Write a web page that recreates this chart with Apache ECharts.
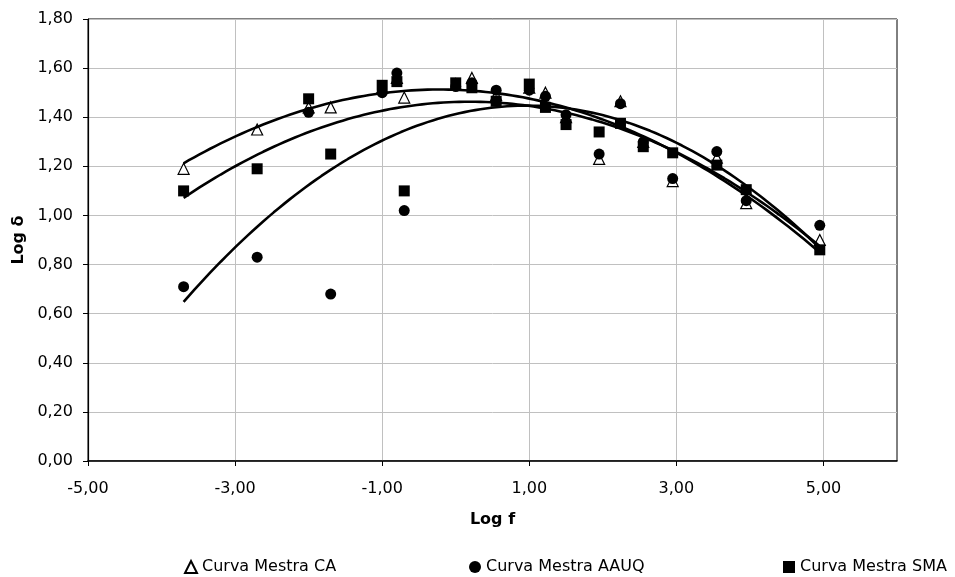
<!DOCTYPE html>
<html>
<head>
<meta charset="utf-8">
<title>Curvas Mestras - Log δ x Log f</title>
<script src="https://cdn.jsdelivr.net/npm/echarts@6/dist/echarts.min.js"></script>
<style>
  html, body { margin: 0; padding: 0; background: #fff; }
  #chart { width: 955px; height: 577px; }
</style>
</head>
<body>
<div id="chart"></div>
<script>
// Log of reduced frequency (shared by the three master curves)
const logF = [-3.70, -2.70, -2.00, -1.70, -1.00, -0.80, -0.70, 0.00, 0.22, 0.55,
              1.00, 1.22, 1.50, 1.95, 2.24, 2.55, 2.95, 3.55, 3.95, 4.95];

// Log of phase angle for each mixture
const caValues   = [1.19, 1.35, 1.44, 1.44, 1.52, 1.56, 1.48, 1.535, 1.56, 1.49,
                    1.52, 1.50, 1.40, 1.23, 1.465, 1.30, 1.14, 1.235, 1.05, 0.90];
const aauqValues = [0.71, 0.83, 1.42, 0.68, 1.50, 1.58, 1.02, 1.525, 1.54, 1.51,
                    1.51, 1.485, 1.41, 1.25, 1.455, 1.30, 1.15, 1.26, 1.06, 0.96];
const smaValues  = [1.10, 1.19, 1.475, 1.25, 1.53, 1.545, 1.10, 1.54, 1.52, 1.465,
                    1.535, 1.44, 1.37, 1.34, 1.375, 1.28, 1.255, 1.205, 1.105, 0.86];

const seriesNames = ['Curva Mestra CA', 'Curva Mestra AAUQ', 'Curva Mestra SMA'];
const xTickLabels = [-5, -3, -1, 1, 3, 5];

// Order of the polynomial trendline fitted to each curve
const TREND_ORDER = 2;

const FONT = 'DejaVu Sans';

function fmt(v) {
  return Number(v).toFixed(2).replace('.', ',');
}

// Least-squares polynomial fit, returns coefficients c0..cn
function polyFit(xs, ys, order) {
  const n = order + 1;
  const A = [];
  for (let i = 0; i < n; i++) {
    A.push(new Array(n + 1).fill(0));
  }
  for (let k = 0; k < xs.length; k++) {
    for (let i = 0; i < n; i++) {
      for (let j = 0; j < n; j++) A[i][j] += Math.pow(xs[k], i + j);
      A[i][n] += ys[k] * Math.pow(xs[k], i);
    }
  }
  for (let i = 0; i < n; i++) {
    let p = i;
    for (let r = i + 1; r < n; r++) if (Math.abs(A[r][i]) > Math.abs(A[p][i])) p = r;
    [A[i], A[p]] = [A[p], A[i]];
    for (let r = 0; r < n; r++) {
      if (r === i) continue;
      const f = A[r][i] / A[i][i];
      for (let c = i; c <= n; c++) A[r][c] -= f * A[i][c];
    }
  }
  return A.map((row, i) => row[n] / row[i]);
}

// Trendline evaluated across the range of the fitted data
function trendData(xs, ys) {
  const c = polyFit(xs, ys, TREND_ORDER);
  const x0 = Math.min(...xs), x1 = Math.max(...xs);
  const steps = 120;
  const out = [];
  for (let s = 0; s <= steps; s++) {
    const x = x0 + (x1 - x0) * s / steps;
    let y = 0;
    for (let i = c.length - 1; i >= 0; i--) y = y * x + c[i];
    out.push([x, y]);
  }
  return out;
}

function pairs(ys) {
  return logF.map((x, i) => [x, ys[i]]);
}

const markerStyles = [
  { symbol: 'triangle', itemStyle: { color: '#fff', borderColor: '#000', borderWidth: 1.2, opacity: 1 } },
  { symbol: 'circle',   itemStyle: { color: '#000', opacity: 1 } },
  { symbol: 'rect',     itemStyle: { color: '#000', opacity: 1 } }
];
const allValues = [caValues, aauqValues, smaValues];

const scatterSeries = seriesNames.map((name, i) => ({
  name: name,
  type: 'scatter',
  symbol: markerStyles[i].symbol,
  symbolSize: 11,
  itemStyle: markerStyles[i].itemStyle,
  emphasis: { disabled: true },
  data: pairs(allValues[i]),
  z: 2
}));

const trendSeries = allValues.map((ys, i) => ({
  name: 'trend-' + i,
  type: 'line',
  data: trendData(logF, ys),
  showSymbol: false,
  symbol: 'none',
  smooth: false,
  lineStyle: { color: '#000', width: 2.6 },
  silent: true,
  z: 3
}));

const legendBase = {
  orient: 'horizontal',
  top: 559,
  padding: 0,
  itemWidth: 12,
  itemHeight: 12,
  textStyle: { fontFamily: FONT, fontSize: 16, color: '#000' }
};

const chart = echarts.init(document.getElementById('chart'), null, { renderer: 'canvas' });

chart.setOption({
  animation: false,
  backgroundColor: '#fff',
  textStyle: { fontFamily: FONT },
  grid: {
    left: 88, right: 58, top: 19, bottom: 116,
    show: true, borderColor: '#000', borderWidth: 1, backgroundColor: '#fff'
  },
  legend: [
    Object.assign({ data: [seriesNames[0]], left: 184 }, legendBase),
    Object.assign({ data: [seriesNames[1]], left: 469 }, legendBase),
    Object.assign({ data: [seriesNames[2]], left: 783 }, legendBase)
  ],
  xAxis: {
    type: 'value',
    min: -5, max: 6, interval: 2,
    name: 'Log f',
    nameLocation: 'middle',
    nameGap: 51,
    nameTextStyle: { fontFamily: FONT, fontSize: 16, fontWeight: 'bold', color: '#000' },
    axisLine: { show: true, onZero: false, lineStyle: { color: '#000', width: 1.5 } },
    axisTick: { show: true, length: 5, lineStyle: { color: '#000' }, customValues: xTickLabels },
    axisLabel: {
      margin: 20, fontFamily: FONT, fontSize: 16, color: '#000',
      customValues: xTickLabels,
      formatter: fmt
    },
    splitLine: { show: true, lineStyle: { color: '#c0c0c0', width: 1 } }
  },
  yAxis: {
    type: 'value',
    min: 0, max: 1.8, interval: 0.2,
    name: 'Log δ',
    nameLocation: 'middle',
    nameGap: 60,
    nameRotate: 90,
    nameTextStyle: { fontFamily: FONT, fontSize: 16, fontWeight: 'bold', color: '#000' },
    axisLine: { show: true, onZero: false, lineStyle: { color: '#000', width: 1.2 } },
    axisTick: { show: true, length: 5, lineStyle: { color: '#000' } },
    axisLabel: { margin: 15, fontFamily: FONT, fontSize: 16, color: '#000', formatter: fmt },
    splitLine: { show: true, lineStyle: { color: '#c0c0c0', width: 1 } }
  },
  series: scatterSeries.concat(trendSeries)
});
</script>
</body>
</html>
